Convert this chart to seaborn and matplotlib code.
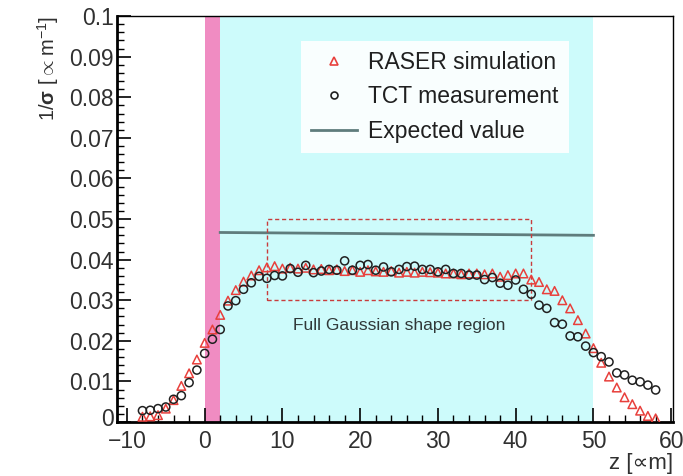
import numpy as np
import pandas as pd
import matplotlib
matplotlib.use("Agg")
import matplotlib.pyplot as plt
import matplotlib.transforms as mtransforms
from matplotlib.lines import Line2D
from matplotlib.patches import Rectangle
from matplotlib.ticker import MultipleLocator
import seaborn as sns

# z positions (um)
z = list(range(-8, 59))

# RASER simulation (red triangles)
raser = [0.0013, 0.0014, 0.0017, 0.0033, 0.0054, 0.0089, 0.0120, 0.0154, 0.0195, 0.0228,
         0.0264, 0.0299, 0.0325, 0.0346, 0.0361, 0.0374, 0.0381, 0.0384, 0.0378, 0.0380,
         0.0378, 0.0380, 0.0376, 0.0377, 0.0374, 0.0376, 0.0372, 0.0374, 0.0370, 0.0374,
         0.0371, 0.0370, 0.0372, 0.0368, 0.0370, 0.0368, 0.0370, 0.0369, 0.0368, 0.0366,
         0.0366, 0.0364, 0.0366, 0.0366, 0.0364, 0.0366, 0.0358, 0.0362, 0.0366, 0.0366,
         0.0351, 0.0345, 0.0327, 0.0323, 0.0300, 0.0280, 0.0251, 0.0218, 0.0182, 0.0146,
         0.0112, 0.0085, 0.0061, 0.0044, 0.0028, 0.0015, 0.0009]

# TCT measurement (black circles)
tct = [0.0028, 0.0029, 0.0033, 0.0037, 0.0056, 0.0065, 0.0097, 0.0128, 0.0169, 0.0204,
       0.0228, 0.0286, 0.0299, 0.0327, 0.0343, 0.0359, 0.0354, 0.0361, 0.0360, 0.0378,
       0.0369, 0.0386, 0.0368, 0.0372, 0.0376, 0.0374, 0.0397, 0.0374, 0.0386, 0.0388,
       0.0374, 0.0382, 0.0370, 0.0376, 0.0383, 0.0384, 0.0376, 0.0376, 0.0370, 0.0376,
       0.0366, 0.0366, 0.0362, 0.0362, 0.0351, 0.0356, 0.0342, 0.0337, 0.0350, 0.0327,
       0.0315, 0.0288, 0.0280, 0.0245, 0.0241, 0.0212, 0.0210, 0.0187, 0.0171, 0.0161,
       0.0148, 0.0121, 0.0116, 0.0103, 0.0099, 0.0091, 0.0079]

# Expected value line
exp_z = [2, 50]
exp_v = [0.0467, 0.0460]

# regions
pink_band = (0, 2)
cyan_band = (2, 50)
box_z = (8, 42)
box_v = (0.03, 0.05)

red = "#e8403c"
pink = "#f08cc2"
cyan = "#cdfbfb"
slate = "#5f7c7c"

df = pd.DataFrame({"z": z, "RASER": raser, "TCT": tct})

plt.rcParams["font.family"] = ["Liberation Sans", "DejaVu Sans"]
plt.rcParams["mathtext.fontset"] = "custom"
plt.rcParams["mathtext.rm"] = "Liberation Sans"
plt.rcParams["mathtext.bf"] = "Liberation Sans:bold"

fig = plt.figure(figsize=(6.83, 4.76), dpi=100)
ax = fig.add_axes([0.171, 0.1134, 0.814, 0.8527])

ax.axvspan(*pink_band, color=pink, lw=0, zorder=0)
ax.axvspan(*cyan_band, color=cyan, lw=0, zorder=0)

sns.lineplot(x=exp_z, y=exp_v, ax=ax, color=slate, lw=2, zorder=2)

ax.add_patch(Rectangle((box_z[0], box_v[0]), box_z[1] - box_z[0], box_v[1] - box_v[0],
                       fill=False, ls=(0, (3, 2)), lw=1, ec="#c83c3c", zorder=3))

sns.scatterplot(data=df, x="z", y="RASER", ax=ax, marker="^", s=38,
                facecolor="none", edgecolor=red, linewidth=1.1, zorder=4)
sns.scatterplot(data=df, x="z", y="TCT", ax=ax, marker="o", s=34,
                facecolor="none", edgecolor="#202020", linewidth=1.1, zorder=5)

ax.text(25, 0.0238, "Full Gaussian shape region", ha="center", va="center",
        fontsize=12.5, color="#303838")

ax.set_xlim(-11.3, 60.2)
ax.set_ylim(0, 0.1)
ax.xaxis.set_minor_locator(MultipleLocator(2))
ax.yaxis.set_minor_locator(MultipleLocator(0.002))
ax.set_yticks(np.arange(0, 0.1001, 0.01))
ax.set_yticklabels(["0", "0.01", "0.02", "0.03", "0.04", "0.05", "0.06", "0.07",
                    "0.08", "0.09", "0.1"])
ax.set_xticks(range(-10, 61, 10))
ax.set_xticklabels([f"{t}".replace("-", "\u2212") for t in range(-10, 61, 10)])
ax.tick_params(which="both", direction="in", top=False, right=False,
               labelsize=16.5, colors="black")
ax.tick_params(axis="y", pad=2)
ax.tick_params(axis="x", pad=6)
ax.tick_params(which="major", length=10, width=1.2)
ax.tick_params(which="minor", length=5, width=1.0)
for lab in ax.get_xticklabels() + ax.get_yticklabels():
    lab.set_color("#303030")
# nudge the "0" on the y axis up so it clears the "-10" below it
ylab0 = ax.get_yticklabels()[0]
ylab0.set_transform(ylab0.get_transform() +
                    mtransforms.ScaledTranslation(0, 5 / 100, fig.dpi_scale_trans))

for side in ["left", "bottom"]:
    ax.spines[side].set_linewidth(2)
for side in ["top", "right"]:
    ax.spines[side].set_linewidth(1)

ax.set_xlabel("z [\u221dm]", fontsize=16, loc="right", labelpad=0, color="#303030")
ax.set_ylabel(r"1/$\mathbf{\sigma}$ [$\propto$m$^{-1}$]", fontsize=14.5, loc="top",
              labelpad=6, color="#303030")

handles = [
    Line2D([], [], marker="^", ls="none", mfc="none", mec=red, ms=6, mew=1.2),
    Line2D([], [], marker="o", ls="none", mfc="none", mec="#202020", ms=5, mew=1.2),
    Line2D([], [], color=slate, lw=2),
]
labels = ["RASER simulation", "TCT measurement", "Expected value"]
leg = ax.legend(handles, labels, loc="upper left", bbox_to_anchor=(0.31, 0.968),
                fontsize=16.5, frameon=True, facecolor="white", edgecolor="none",
                framealpha=0.9, fancybox=False, handlelength=2.0, handletextpad=0.5,
                labelspacing=0.5, borderpad=0.45)
for t in leg.get_texts():
    t.set_color("#202020")

fig.savefig("out.png", dpi=100)
